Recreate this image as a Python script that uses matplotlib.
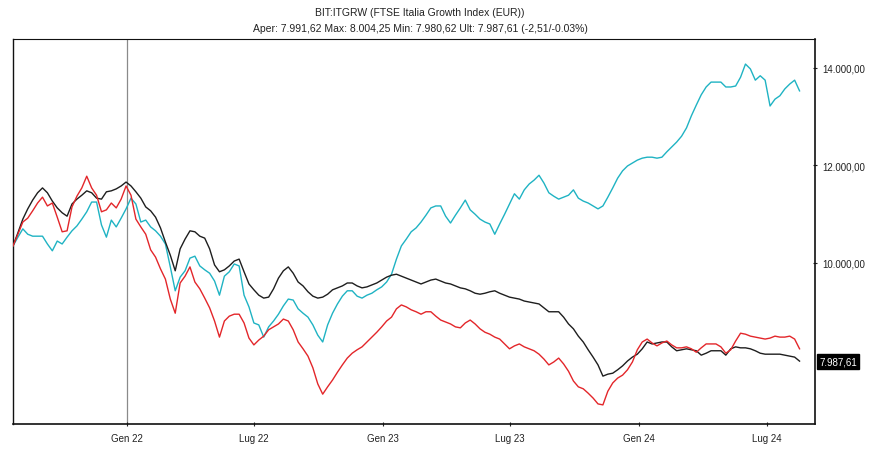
import matplotlib
matplotlib.use("Agg")
import matplotlib.pyplot as plt
import matplotlib.dates as mdates
import pandas as pd

plt.rcParams['font.family'] = ['Liberation Sans', 'DejaVu Sans']

dates = pd.date_range('2021-07-23', periods=161, freq='7D')

cyan_values = [
    10350, 10530, 10700, 10590, 10550, 10550, 10550, 10390, 10250, 10450,
    10390, 10530, 10660, 10760, 10900, 11050, 11250, 11250, 10780, 10530,
    10880, 10740, 10920, 11110, 11330, 11210, 10840, 10880, 10740, 10660,
    10550, 10390, 9920, 9430, 9710, 9840, 10100, 10140, 9940, 9860,
    9790, 9630, 9340, 9730, 9820, 9980, 9940, 9340, 9100, 8770,
    8730, 8480, 8690, 8810, 8950, 9120, 9260, 9240, 9060, 8970,
    8890, 8730, 8520, 8380, 8730, 8970, 9160, 9320, 9430, 9430,
    9320, 9280, 9340, 9380, 9450, 9510, 9610, 9770, 10080, 10350,
    10490, 10640, 10720, 10840, 10980, 11130, 11170, 11170, 10960, 10820,
    10980, 11130, 11290, 11090, 11000, 10900, 10840, 10800, 10590, 10800,
    11000, 11210, 11420, 11310, 11500, 11620, 11700, 11800, 11640, 11440,
    11370, 11310, 11350, 11390, 11500, 11330, 11270, 11230, 11170, 11110,
    11170, 11350, 11540, 11740, 11890, 11990, 12050, 12110, 12150, 12170,
    12170, 12150, 12170, 12280, 12380, 12480, 12600, 12770, 13020, 13240,
    13450, 13610, 13710, 13710, 13710, 13610, 13610, 13630, 13810, 14080,
    13980, 13750, 13840, 13750, 13220, 13360, 13430, 13570, 13670, 13750,
    13530,
]

black_values = [
    10350, 10620, 10900, 11110, 11290, 11440, 11540, 11440, 11270, 11130,
    11030, 10960, 11210, 11310, 11390, 11480, 11440, 11330, 11310, 11460,
    11480, 11520, 11580, 11660, 11580, 11460, 11330, 11150, 11070, 10940,
    10720, 10430, 10160, 9840, 10290, 10490, 10660, 10640, 10550, 10510,
    10290, 9960, 9820, 9860, 9940, 10040, 10080, 9820, 9570, 9450,
    9340, 9280, 9300, 9470, 9690, 9840, 9920, 9790, 9610, 9530,
    9410, 9320, 9280, 9300, 9360, 9450, 9490, 9530, 9590, 9590,
    9530, 9490, 9510, 9550, 9590, 9650, 9710, 9750, 9770, 9730,
    9690, 9650, 9610, 9570, 9610, 9650, 9670, 9630, 9590, 9570,
    9530, 9490, 9470, 9430, 9380, 9360, 9380, 9410, 9430, 9380,
    9340, 9300, 9280, 9260, 9220, 9200, 9180, 9160, 9080, 9000,
    9000, 9000, 8890, 8750, 8650, 8500, 8380, 8220, 8070, 7910,
    7680, 7720, 7740, 7810, 7890, 7990, 8070, 8130, 8240, 8380,
    8340, 8360, 8380, 8380, 8280, 8200, 8220, 8240, 8220, 8200,
    8110, 8150, 8200, 8200, 8200, 8110, 8240, 8280, 8260, 8260,
    8240, 8200, 8150, 8130, 8130, 8130, 8130, 8110, 8090, 8070,
    7987.61,
]

red_values = [
    10350, 10590, 10840, 10920, 11070, 11230, 11350, 11170, 11230, 10940,
    10640, 10660, 11150, 11370, 11540, 11780, 11540, 11390, 11050, 11090,
    11230, 11130, 11310, 11580, 11390, 10900, 10740, 10590, 10270, 10120,
    9880, 9670, 9260, 8970, 9590, 9730, 9920, 9610, 9470, 9280,
    9080, 8810, 8480, 8810, 8910, 8950, 8950, 8770, 8460, 8320,
    8420, 8500, 8630, 8690, 8750, 8850, 8810, 8630, 8380, 8240,
    8090, 7850, 7520, 7310, 7460, 7600, 7760, 7910, 8050, 8150,
    8220, 8280, 8380, 8480, 8580, 8690, 8810, 8890, 9060, 9140,
    9100, 9040, 9000, 8950, 9000, 9000, 8910, 8830, 8790, 8750,
    8690, 8670, 8770, 8830, 8750, 8650, 8580, 8540, 8480, 8440,
    8340, 8240, 8300, 8340, 8280, 8240, 8200, 8130, 8030, 7910,
    7970, 8050, 7930, 7780, 7580, 7460, 7420, 7330, 7230, 7110,
    7090, 7370, 7540, 7640, 7700, 7810, 7970, 8220, 8380, 8440,
    8360, 8300, 8360, 8400, 8320, 8260, 8260, 8280, 8240, 8170,
    8260, 8340, 8340, 8340, 8280, 8150, 8220, 8400, 8560, 8540,
    8500, 8480, 8460, 8440, 8460, 8500, 8480, 8480, 8500, 8440,
    8240,
]

tick_dates = pd.to_datetime(['2022-01-01', '2022-07-01', '2023-01-01',
                             '2023-07-01', '2024-01-01', '2024-07-01'])
tick_labels = ['Gen 22', 'Lug 22', 'Gen 23', 'Lug 23', 'Gen 24', 'Lug 24']
y_ticks = [10000, 12000, 14000]
last_value = 7987.61
title_line1 = 'BIT:ITGRW (FTSE Italia Growth Index (EUR))'
title_line2 = 'Aper: 7.991,62 Max: 8.004,25 Min: 7.980,62 Ult: 7.987,61 (-2,51/-0.03%)'


def it_fmt(v):
    s = f"{v:,.2f}"
    return s.replace(',', 'X').replace('.', ',').replace('X', '.')


fig = plt.figure(figsize=(8.93, 4.52), dpi=100)
ax = fig.add_axes([13 / 893, 1 - 425 / 452, 802 / 893, 385 / 452])

ax.axvline(pd.Timestamp('2022-01-01'), color='#8a8a8a', lw=0.9, zorder=1)
ax.plot(dates, cyan_values, color='#1fb3c3', lw=1.0, zorder=3)
ax.plot(dates, black_values, color='#1e1e1e', lw=1.0, zorder=4)
ax.plot(dates, red_values, color='#e3262a', lw=1.0, zorder=5)

ax.set_xlim(pd.Timestamp('2021-07-23'), pd.Timestamp('2024-09-07'))
ax.set_ylim(6698, 14594)

ax.set_xticks(tick_dates)
ax.set_xticklabels(tick_labels)
ax.yaxis.tick_right()
ax.set_yticks(y_ticks)
ax.set_yticklabels([it_fmt(v) for v in y_ticks])
ax.tick_params(axis='both', labelsize=7, colors='#222222', length=3,
               width=0.8, direction='inout')
ax.tick_params(axis='x', pad=5)
ax.tick_params(axis='y', pad=4)

for side in ['left', 'top', 'right', 'bottom']:
    ax.spines[side].set_color('#111111')
ax.spines['left'].set_linewidth(1.0)
ax.spines['top'].set_linewidth(0.8)
ax.spines['right'].set_linewidth(1.2)
ax.spines['bottom'].set_linewidth(1.2)

ax.annotate(it_fmt(last_value), xy=(1.0, last_value),
            xycoords=('axes fraction', 'data'),
            xytext=(3, 0), textcoords='offset points',
            ha='left', va='center', fontsize=7, color='white',
            bbox=dict(boxstyle='square,pad=0.25', fc='black', ec='black'))

fig.text(420 / 893, 1 - 13 / 452, title_line1, ha='center', va='center',
         fontsize=7.5, color='#222222')
fig.text(420 / 893, 1 - 29 / 452, title_line2, ha='center', va='center',
         fontsize=7.5, color='#222222')

fig.savefig('out.png', dpi=100, facecolor='white')
